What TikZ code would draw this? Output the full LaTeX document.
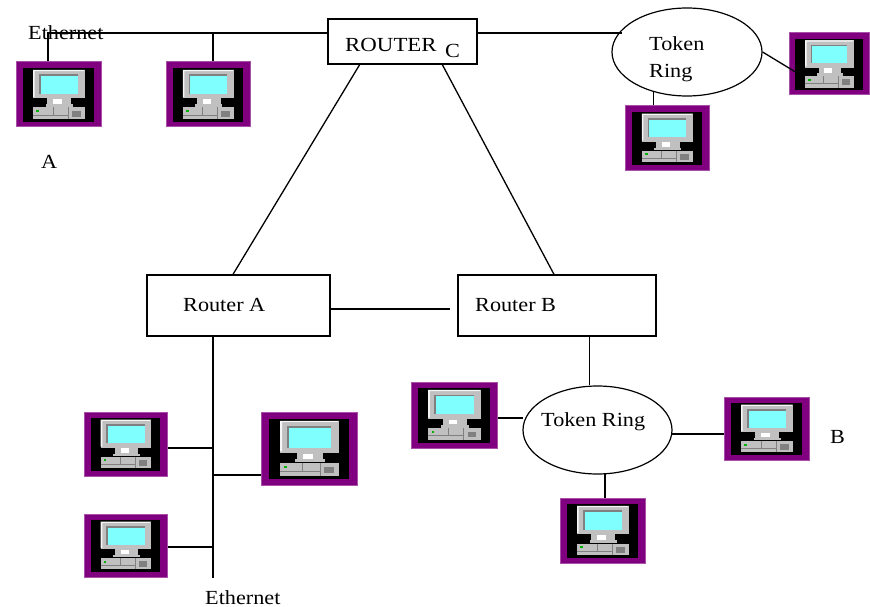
\documentclass[tikz,border=0pt]{standalone}
\usepackage{fontspec}
\setmainfont{Liberation Serif}
\usetikzlibrary{calc,shapes.geometric}
\definecolor{cpurple}{HTML}{800080}
\definecolor{cedge}{HTML}{A850A8}
\definecolor{cscreen}{HTML}{80FFFF}
\definecolor{cgrey}{HTML}{C0C0C0}
\definecolor{cdark}{HTML}{808080}
\tikzset{
  conn/.style={draw=black,line width=1.3pt},
  boxnode/.style={draw=black,line width=1.2pt,fill=white,inner sep=0pt},
  ringnode/.style={draw=black,line width=1.2pt,fill=white,ellipse,inner sep=0pt},
  lbl/.style={inner sep=0pt,font=\fontsize{20}{23}\selectfont,anchor=base west,xscale=1.11,transform shape},
  compbox/.style={draw=cedge,line width=1pt,fill=cpurple,inner sep=0pt}
}
% name x1 y1 x2 y2
\newcommand{\computer}[5]{%
  \pgfmathsetmacro{\cw}{#4-#2}\pgfmathsetmacro{\ch}{#5-#3}%
  \node[compbox,minimum width=\cw pt,minimum height=\ch pt] (#1) at ({(#2+#4)/2},{(#3+#5)/2}) {};
  \begin{scope}[shift={(#2,#3)},x=\cw/100*1pt,y=-\ch/100*1pt]
    \fill[black] (8,9) rectangle (92,92);
    \fill[cgrey] (20,12) rectangle (81,56);
    \fill[white!85!cgrey] (20,54) -- (20,12) -- (81,12) -- (79,14) -- (22,14) -- (22,54) -- cycle;
    \fill[cdark] (27,19) rectangle (73,21.5);
    \fill[cdark] (27,19) rectangle (29,49);
    \fill[cscreen] (29,21.5) rectangle (73,49);
    \fill[cgrey] (37,56) rectangle (65,65);
    \fill[white] (44,57) rectangle (54,64);
    \fill[cgrey] (35,65) rectangle (67,69);
    \fill[cgrey] (20,70) rectangle (81,88);
    \fill[cdark] (20,81) rectangle (61,82);
    \fill[cdark] (43,70) rectangle (44,81);
    \fill[cdark] (61,70) rectangle (62,88);
    \fill[cdark] (66,75) rectangle (76,84);
    \fill[green!70!black] (24,74) rectangle (27,77);
  \end{scope}
}
\begin{document}
\begin{tikzpicture}[x=1pt,y=-1pt]
\useasboundingbox (0,0) rectangle (870,607);
\fill[white] (0,0) rectangle (870,607);

% routers and rings
\node[boxnode,minimum width=149pt,minimum height=45pt] (rc) at (402.5,41.5) {};
\node[boxnode,minimum width=183pt,minimum height=61pt] (ra) at (238.5,305.5) {};
\node[boxnode,minimum width=198pt,minimum height=61pt] (rb) at (557,305.5) {};
\node[ringnode,minimum width=150pt,minimum height=88pt] (t1) at (687,52) {};
\node[ringnode,minimum width=149pt,minimum height=88pt] (t2) at (597.5,430) {};

% computers
\computer{c1}{16}{62}{101}{127}
\computer{c2}{166}{62}{250}{127}
\computer{c3}{789}{33}{869}{95}
\computer{c4}{625}{106}{709}{170}
\computer{c5}{84}{412}{167}{476}
\computer{c6}{261}{412}{357}{485}
\computer{c7}{84}{514}{167}{577}
\computer{c8}{411}{382}{497}{448}
\computer{c9}{724}{397}{809}{460}
\computer{c10}{560}{498}{645}{563}

% labels
\node[lbl] (lethtop) at (28,40) {Ethernet};
\node[lbl,xscale=1.03] (lrc) at (345,52) {ROUTER};
\node[lbl] (lc) at (445,58) {C};
\node[lbl] (ltok) at (649,51) {Token};
\node[lbl] (lring) at (649,78) {Ring};
\node[lbl] (la) at (41,168) {A};
\node[lbl] (lra) at (183,311) {Router A};
\node[lbl] (lrb) at (475,311) {Router B};
\node[lbl] (ltr) at (541,426) {Token Ring};
\node[lbl] (lb) at (830,443) {B};
\node[lbl] (lethbot) at (205,604) {Ethernet};

% named free ends
\coordinate (busL) at (48,33);
\coordinate (busM) at (213,33);
\coordinate (busR) at (622,33);
\coordinate (gapB) at (450,309);
\coordinate (busV) at (213,578);
\coordinate (j5) at (213,448);
\coordinate (j6) at (213,475);
\coordinate (j7) at (213,547);
\coordinate (t2W) at (523,418);
\coordinate (t2E) at (672,434);
\coordinate (rbS) at (589.4,336);

% connectors
\draw[conn] (busL |- c1.north) -- (busL) -- (rc.west |- busL);
\draw[conn] (busM) -- (busM |- c2.north);
\draw[conn] (rc.east |- busL) -- (busR);
\draw[conn] (t1.0) -- ($(c3.west)+(7,8)$);
\draw[conn] (t1.230) -- (t1.230 |- c4.north);
\draw[conn] ($(rc.south west)!0.215!(rc.south east)$) -- ($(ra.north west)!0.47!(ra.north east)$);
\draw[conn] ($(rc.south west)!0.765!(rc.south east)$) -- ($(rb.north west)!0.485!(rb.north east)$);
\draw[conn] (ra.east |- gapB) -- (gapB);
\draw[conn] (ra.south -| busV) -- (busV);
\draw[conn] (c5.east |- j5) -- (j5);
\draw[conn] (c6.west |- j6) -- (j6);
\draw[conn] (c7.east |- j7) -- (j7);
\draw[conn] (rbS) -- (rbS |- t2.north);
\draw[conn] (c8.east |- t2W) -- (t2W);
\draw[conn] (t2E) -- (c9.west |- t2E);
\draw[conn] (c10.north) ++(2.5,0) -- ++(0,-24);
\end{tikzpicture}
\end{document}
